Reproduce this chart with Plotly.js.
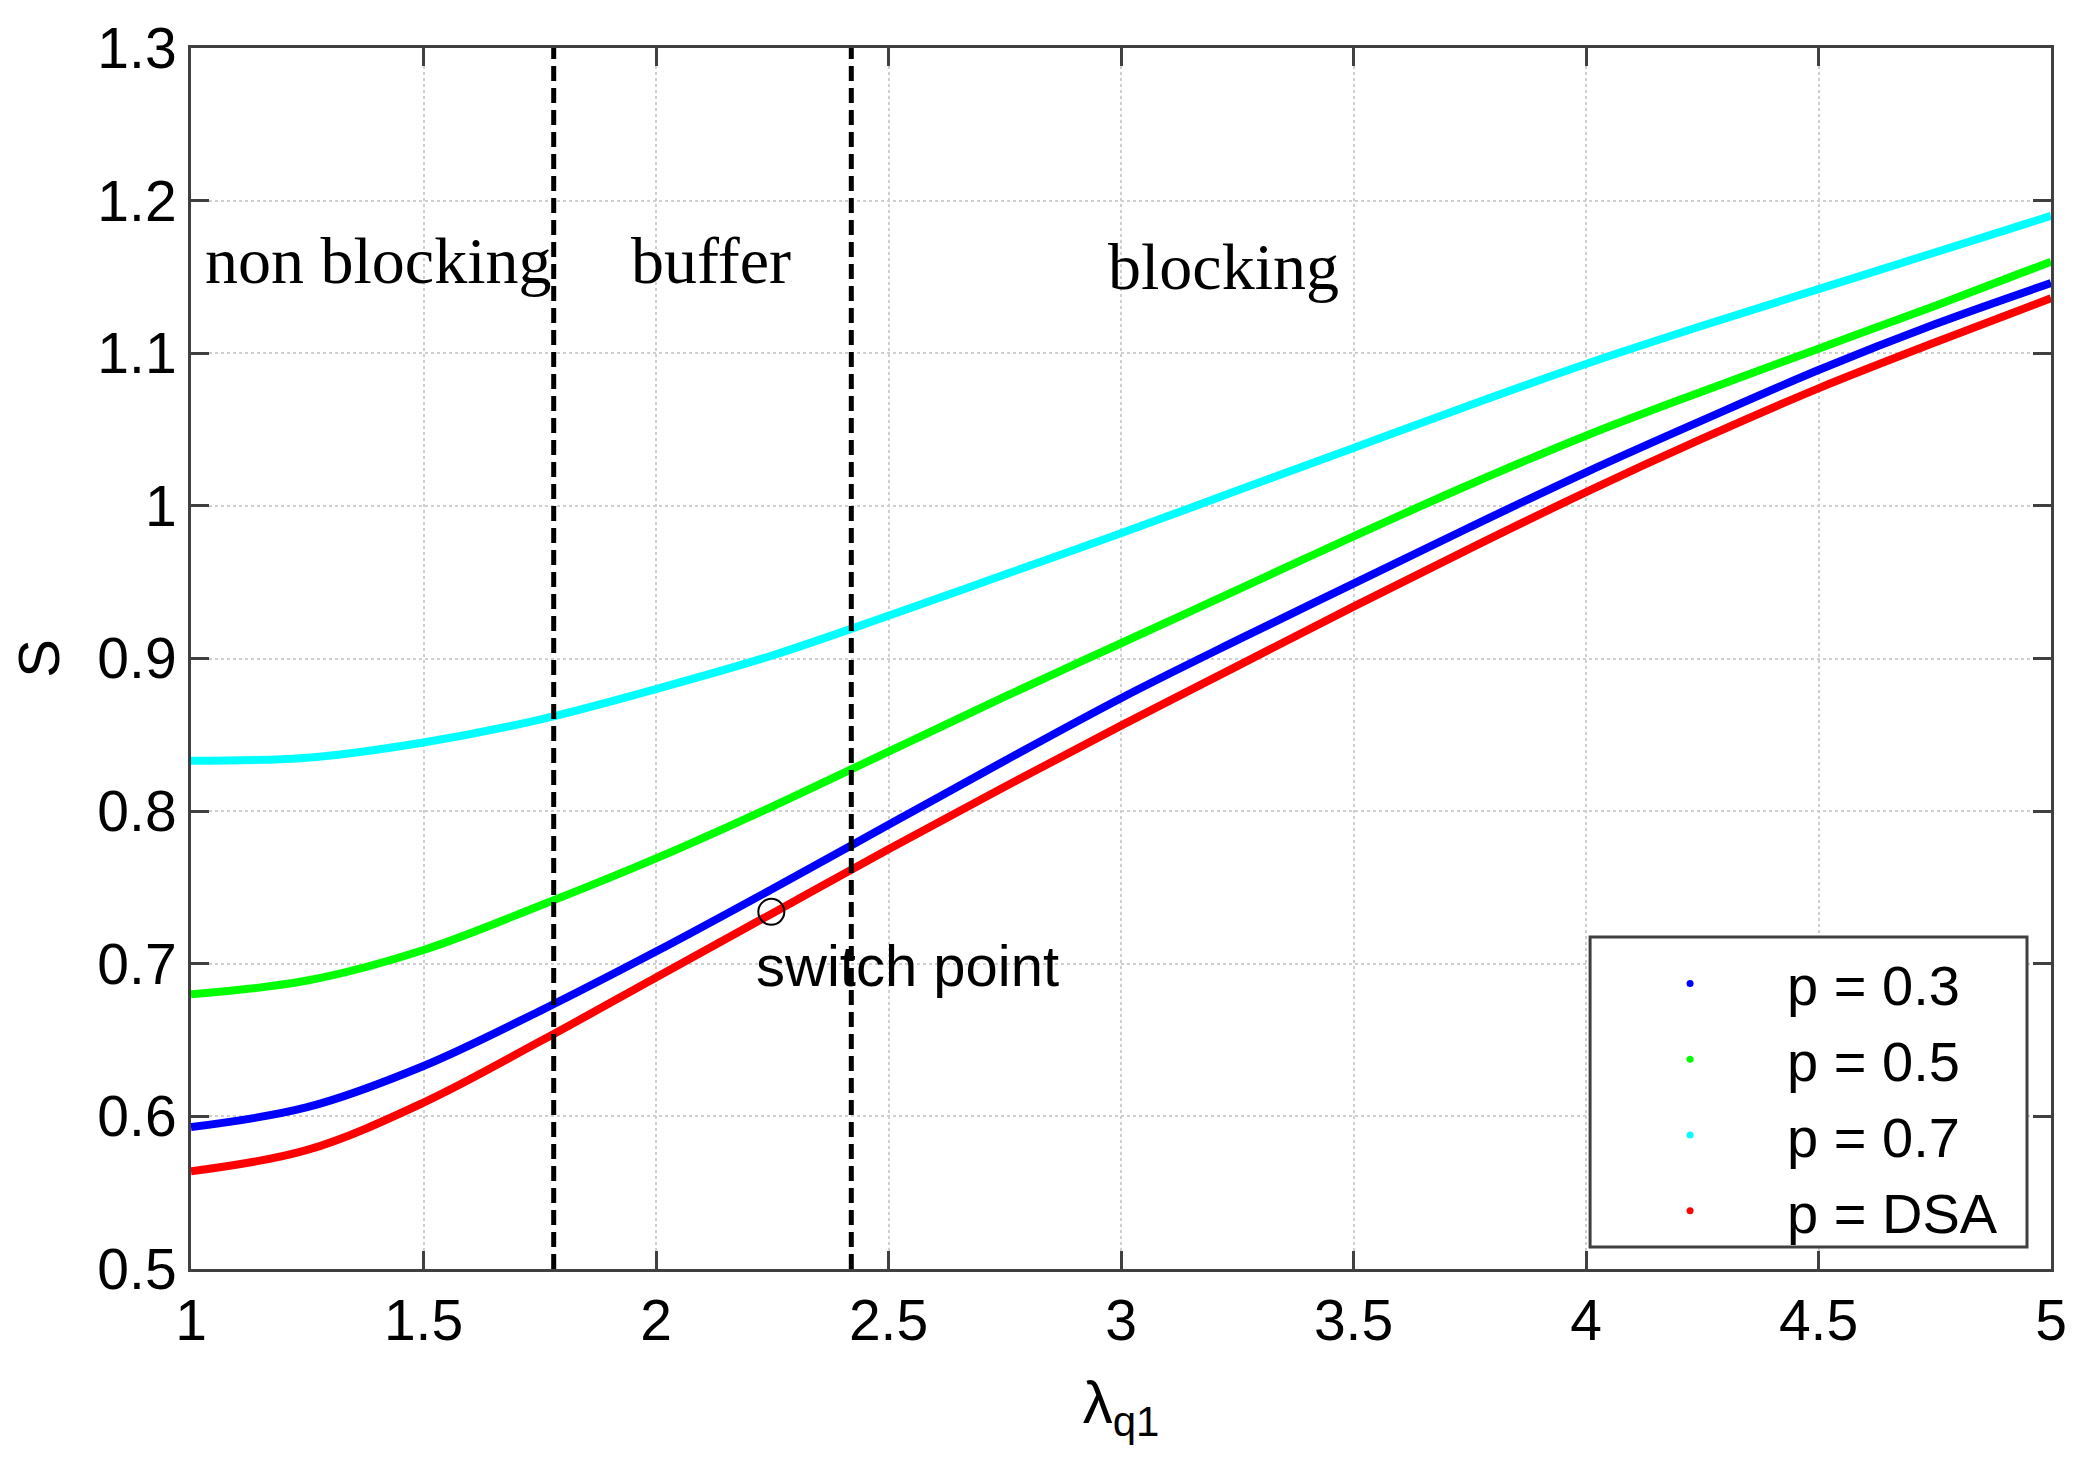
<!DOCTYPE html>
<html>
<head>
<meta charset="utf-8">
<script src="https://cdn.plot.ly/plotly-3.0.1.min.js"></script>
<style>
  body { margin: 0; background: #fff; }
  #chart-area { width: 2098px; height: 1473px; }
</style>
</head>
<body>
<div id="chart-area"></div>
<script>
// lambda_q1 sample points
let lambdaQ1 = [1, 1.25, 1.5, 1.75, 2, 2.25, 2.5, 2.75, 3, 3.25, 3.5, 3.75, 4, 4.25, 4.5, 4.75, 5];

// S values
let sP03 = [0.593, 0.606, 0.633, 0.669, 0.708, 0.749, 0.791, 0.833, 0.874, 0.912, 0.949, 0.986, 1.022, 1.056, 1.089, 1.119, 1.146];
let sP05 = [0.680, 0.689, 0.709, 0.738, 0.769, 0.803, 0.839, 0.875, 0.910, 0.945, 0.980, 1.014, 1.046, 1.075, 1.103, 1.131, 1.160];
let sP07 = [0.833, 0.835, 0.845, 0.860, 0.880, 0.902, 0.928, 0.955, 0.982, 1.010, 1.038, 1.066, 1.093, 1.118, 1.142, 1.166, 1.190];
let sDSA = [0.564, 0.578, 0.609, 0.649, 0.691, 0.733, 0.775, 0.816, 0.856, 0.895, 0.934, 0.972, 1.009, 1.044, 1.077, 1.107, 1.136];

let seriesNames = ["p = 0.3", "p = 0.5", "p = 0.7", "p = DSA"];
let seriesColors = ["#0000ff", "#00ff00", "#00ffff", "#ff0000"];

// region boundaries (dashed lines)
let regionBounds = [1.78, 2.42];
let regionLabels = ["non blocking", "buffer", "blocking"];
let regionLabelX = [1.402, 2.118, 3.221];
let regionLabelY = [1.161, 1.161, 1.157];

let switchX = [2.248];
let switchY = [0.734];

let xTickVals = [1, 1.5, 2, 2.5, 3, 3.5, 4, 4.5, 5];
let xTickText = ["1", "1.5", "2", "2.5", "3", "3.5", "4", "4.5", "5"];
let yTickVals = [0.5, 0.6, 0.7, 0.8, 0.9, 1.0, 1.1, 1.2, 1.3];
let yTickText = ["0.5", "0.6", "0.7", "0.8", "0.9", "1", "1.1", "1.2", "1.3"];

const sansFont = "Liberation Sans, Arial, sans-serif";
const serifFont = "Liberation Serif, Times New Roman, serif";

let curves = [sP03, sP05, sP07, sDSA];
let data = [];

// the curves themselves (lines only, legend handled by dot traces below)
for (let k = 0; k < curves.length; k++) {
  data.push({
    type: "scatter",
    mode: "lines",
    x: lambdaQ1,
    y: curves[k],
    line: { color: seriesColors[k], width: 8, shape: "spline", smoothing: 1 },
    showlegend: false,
    hoverinfo: "none",
  });
}

// matlab style '.' legend entries
for (let k = 0; k < curves.length; k++) {
  data.push({
    type: "scatter",
    mode: "markers",
    x: [null],
    y: [null],
    name: seriesNames[k],
    marker: { color: seriesColors[k], size: 7 },
    showlegend: true,
  });
}

data.push({
  type: "scatter",
  mode: "markers",
  x: switchX,
  y: switchY,
  marker: { symbol: "circle-open", size: 26, color: "#000", line: { width: 2, color: "#000" } },
  showlegend: false,
  hoverinfo: "none",
});

let shapes = regionBounds.map((b) => ({
  type: "line",
  xref: "x",
  yref: "paper",
  x0: b,
  x1: b,
  y0: 0,
  y1: 1,
  layer: "above",
  line: { color: "#000", width: 5, dash: "15px,7px" },
}));

// legend frame drawn as a box so its size matches the original
shapes.push({
  type: "rect",
  xref: "paper",
  yref: "paper",
  x0: 0.7522,
  x1: 0.9871,
  y0: 0.018,
  y1: 0.2719,
  layer: "above",
  fillcolor: "#fff",
  line: { color: "#404040", width: 3 },
});

let annotations = regionLabels.map((t, i) => ({
  text: t,
  x: regionLabelX[i],
  y: regionLabelY[i],
  xref: "x",
  yref: "y",
  showarrow: false,
  xanchor: "center",
  yanchor: "middle",
  font: { family: serifFont, size: 66, color: "#000" },
}));
annotations.push({
  text: "switch point",
  x: 2.54,
  y: 0.699,
  xref: "x",
  yref: "y",
  showarrow: false,
  xanchor: "center",
  yanchor: "middle",
  font: { family: sansFont, size: 58, color: "#000" },
});

let axisCommon = {
  showline: true,
  linecolor: "#404040",
  linewidth: 3,
  mirror: "ticks",
  ticks: "inside",
  ticklen: 18,
  tickwidth: 3,
  tickcolor: "#404040",
  showgrid: true,
  gridcolor: "#cfcfcf",
  gridwidth: 2,
  griddash: "dot",
  zeroline: false,
  automargin: false,
  tickfont: { family: sansFont, size: 57, color: "#000" },
};

let layout = {
  width: 2098,
  height: 1473,
  margin: { l: 191, r: 47, t: 48, b: 204 },
  paper_bgcolor: "#fff",
  plot_bgcolor: "#fff",
  showlegend: true,
  xaxis: Object.assign({}, axisCommon, {
    range: [1, 5],
    tickvals: xTickVals,
    ticktext: xTickText,
    title: { text: "λ<sub>q1</sub>", font: { family: sansFont, size: 60, color: "#000" }, standoff: 30 },
  }),
  yaxis: Object.assign({}, axisCommon, {
    range: [0.5, 1.3],
    tickvals: yTickVals,
    ticktext: yTickText,
    title: { text: "S", font: { family: sansFont, size: 58, color: "#000" }, standoff: 20 },
  }),
  legend: {
    x: 0.7538,
    y: 0.269,
    xanchor: "left",
    yanchor: "top",
    bgcolor: "rgba(0,0,0,0)",
    borderwidth: 0,
    itemwidth: 184,
    font: { family: sansFont, size: 56, color: "#000" },
  },
  shapes: shapes,
  annotations: annotations,
};

Plotly.newPlot("chart-area", data, layout, { staticPlot: true });
</script>
</body>
</html>
